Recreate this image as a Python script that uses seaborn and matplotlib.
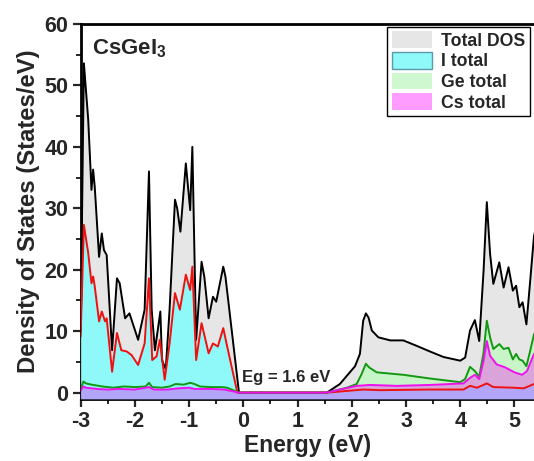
import matplotlib
matplotlib.use('Agg')
import matplotlib.pyplot as plt
import seaborn as sns
import pandas as pd
from matplotlib.patches import Patch
from matplotlib.ticker import MultipleLocator

# ---------------- data ----------------
energy_total = [-3.00, -2.94, -2.86, -2.80, -2.77, -2.74, -2.66, -2.61, -2.57, -2.52,
                -2.42, -2.33, -2.28, -2.18, -2.10, -1.94, -1.82, -1.74, -1.69, -1.63,
                -1.53, -1.50, -1.43, -1.36, -1.26, -1.22, -1.16, -1.06, -0.98, -0.94,
                -0.87, -0.77, -0.72, -0.64, -0.56, -0.50, -0.37, -0.33, -0.08, 1.54,
                1.78, 2.06, 2.15, 2.21, 2.26, 2.31, 2.37, 2.49, 2.71, 2.95,
                3.20, 3.44, 3.69, 4.00, 4.09, 4.18, 4.27, 4.35, 4.43, 4.49,
                4.55, 4.61, 4.72, 4.80, 4.89, 4.97, 5.03, 5.09, 5.15, 5.22,
                5.29, 5.36, 5.40]
dos_total = [10.2, 53.6, 44.4, 33.0, 36.3, 33.5, 22.1, 25.9, 23.2, 22.4,
             6.9, 18.6, 17.8, 12.1, 12.9, 8.6, 13.5, 36.0, 13.5, 6.9,
             13.2, 5.3, 3.8, 13.5, 31.4, 30.0, 26.2, 37.3, 29.7, 40.0,
             8.6, 21.3, 18.9, 12.1, 15.6, 14.8, 20.5, 18.9, 0.0, 0.0,
             1.4, 4.3, 6.3, 11.7, 12.9, 12.2, 10.1, 9.0, 8.5, 8.5,
             7.6, 6.7, 5.8, 5.2, 5.7, 10.1, 11.8, 8.4, 19.8, 31.0,
             22.6, 17.7, 21.2, 17.1, 20.4, 16.6, 17.4, 13.9, 14.7, 11.1,
             18.2, 25.5, 27.0]

energy_I = [-3.00, -2.94, -2.86, -2.80, -2.77, -2.74, -2.66, -2.61, -2.55, -2.52,
            -2.42, -2.33, -2.25, -2.15, -2.06, -1.94, -1.82, -1.74, -1.68, -1.60,
            -1.54, -1.45, -1.36, -1.26, -1.17, -1.06, -0.98, -0.94, -0.87, -0.77,
            -0.64, -0.56, -0.47, -0.37, -0.31, -0.11, 1.54, 2.21, 2.52, 3.44,
            4.06, 4.18, 4.31, 4.49, 4.61, 4.98, 5.17, 5.36, 5.40]
dos_I = [9.1, 27.3, 22.7, 17.8, 18.9, 17.3, 11.6, 13.2, 11.6, 12.1,
         3.4, 9.7, 6.9, 6.7, 6.1, 4.5, 8.0, 18.6, 5.3, 5.9,
         8.6, 2.1, 8.0, 16.2, 13.5, 19.2, 16.7, 20.5, 5.3, 11.3,
         6.4, 8.0, 7.5, 10.5, 8.0, 0.0, 0.0, 0.5, 0.4, 0.5,
         0.5, 1.1, 0.8, 1.5, 0.9, 0.8, 0.7, 1.4, 1.5]

energy_Ge = [-3.00, -2.95, -2.90, -2.80, -2.60, -2.40, -2.20, -2.00, -1.80, -1.74,
             -1.68, -1.50, -1.36, -1.25, -1.10, -0.98, -0.90, -0.80, -0.60, -0.40,
             -0.30, -0.08, 1.54, 1.91, 2.09, 2.18, 2.26, 2.32, 2.46, 2.95,
             3.44, 4.00, 4.09, 4.18, 4.27, 4.35, 4.43, 4.49, 4.55, 4.61,
             4.72, 4.80, 4.89, 4.97, 5.03, 5.09, 5.15, 5.22, 5.29, 5.36, 5.40]
dos_Ge = [0.5, 1.8, 1.5, 1.3, 1.0, 0.8, 1.0, 0.9, 1.0, 1.6,
          0.9, 0.8, 1.0, 1.4, 1.3, 1.6, 1.4, 1.0, 0.9, 0.9,
          0.8, 0.0, 0.0, 0.8, 1.4, 3.0, 4.7, 4.1, 3.3, 2.9,
          2.3, 1.7, 2.2, 4.2, 3.5, 2.6, 6.5, 11.7, 9.0, 7.1,
          7.9, 7.1, 7.3, 5.4, 6.3, 5.4, 5.2, 4.3, 6.8, 9.5, 10.0]

energy_Cs = [-3.00, -2.95, -2.90, -2.70, -2.50, -2.30, -2.00, -1.74, -1.65, -1.40,
             -1.20, -1.00, -0.90, -0.60, -0.35, -0.08, 1.54, 1.78, 2.09, 2.34,
             2.83, 3.44, 4.06, 4.18, 4.27, 4.35, 4.43, 4.49, 4.55, 4.67,
             4.83, 5.00, 5.14, 5.23, 5.36, 5.40]
dos_Cs = [0.3, 1.0, 0.8, 0.6, 0.5, 0.6, 0.5, 0.9, 0.5, 0.5,
          0.7, 0.8, 0.6, 0.6, 0.5, 0.0, 0.0, 0.5, 1.1, 1.25,
          1.1, 1.25, 1.5, 2.4, 2.9, 2.2, 5.2, 8.4, 6.0, 4.6,
          4.1, 3.3, 2.9, 3.5, 6.3, 6.6]

series_labels = ['Total DOS', 'I total', 'Ge total', 'Cs total']
x_ticks = [-3, -2, -1, 0, 1, 2, 3, 4, 5]
y_ticks = [0, 10, 20, 30, 40, 50, 60]

# ---------------- style ----------------
sns.set_style('ticks')
plt.rcParams['font.family'] = ['Liberation Sans', 'DejaVu Sans']
plt.rcParams['font.weight'] = 'bold'
plt.rcParams['axes.unicode_minus'] = False
plt.rcParams['mathtext.fontset'] = 'custom'
plt.rcParams['mathtext.rm'] = 'Liberation Sans:bold'
plt.rcParams['mathtext.bf'] = 'Liberation Sans:bold'

fig = plt.figure(figsize=(5.34, 4.61), dpi=100)
ax = fig.add_axes([0.151, 0.135, 0.849, 0.813])

base = -1
fill_specs = [
    (energy_total, dos_total, '#e6e6e6', 1.0, 1),
    (energy_Ge, dos_Ge, '#c8f5c8', 1.0, 2),
    (energy_I, dos_I, '#8ff8f8', 1.0, 3),
    (energy_Cs, dos_Cs, '#ff00ff', 0.33, 4),
]
for e, d, c, a, z in fill_specs:
    ax.fill_between(e, base, d, color=c, alpha=a, lw=0, zorder=z)

line_specs = [
    (energy_total, dos_total, 'black', 5),
    (energy_I, dos_I, '#ee1111', 6),
    (energy_Ge, dos_Ge, '#119911', 7),
    (energy_Cs, dos_Cs, '#ee11ee', 8),
]
for e, d, c, z in line_specs:
    df = pd.DataFrame({'E': e, 'DOS': d})
    sns.lineplot(data=df, x='E', y='DOS', ax=ax, color=c, lw=1.4,
                 sort=False, estimator=None, zorder=z)

ax.set_xlim(-3, 5.36)
ax.set_ylim(-1, 60)
ax.set_xticks(x_ticks)
ax.set_yticks(y_ticks)
ax.xaxis.set_minor_locator(MultipleLocator(0.5))
ax.yaxis.set_minor_locator(MultipleLocator(5))
ax.tick_params(which='major', direction='out', length=6, width=1.6,
               labelsize=15.5, pad=3)
ax.tick_params(which='minor', direction='out', length=3.5, width=1.4)
for lab in ax.get_xticklabels() + ax.get_yticklabels():
    lab.set_fontweight('bold')

for s in ['left', 'bottom', 'top']:
    ax.spines[s].set_linewidth(2)
    ax.spines[s].set_color('black')
ax.spines['right'].set_visible(False)

ax.set_xlabel('Energy (eV)', fontsize=16.5, fontweight='bold', labelpad=1)
ax.set_ylabel('Density of States (States/eV)', fontsize=17.2,
              fontweight='bold', labelpad=3)

ax.text(0.025, 0.965, r'CsGeI$_\mathbf{3}$', transform=ax.transAxes,
        fontsize=16, fontweight='bold', va='top', ha='left', zorder=10)
ax.text(-0.03, 2.4, 'Eg = 1.6 eV', fontsize=12, fontweight='bold',
        va='center', ha='left', zorder=10)

handles = [
    Patch(facecolor='#e6e6e6', edgecolor='none', label=series_labels[0]),
    Patch(facecolor='#8ff8f8', edgecolor='#5a9aaa', label=series_labels[1]),
    Patch(facecolor='#d0f8d0', edgecolor='none', label=series_labels[2]),
    Patch(facecolor='#ff9cff', edgecolor='none', label=series_labels[3]),
]
leg = ax.legend(handles=handles, loc='upper right', bbox_to_anchor=(0.991, 0.992),
                frameon=True, fancybox=False, edgecolor='black', framealpha=1,
                prop={'weight': 'bold', 'size': 12.7}, handlelength=2.3,
                handleheight=1.1, labelspacing=0.12, handletextpad=0.5,
                borderpad=0.25, borderaxespad=0)
leg.get_frame().set_linewidth(1.0)
leg.set_zorder(20)

fig.savefig('out.png', dpi=100)
